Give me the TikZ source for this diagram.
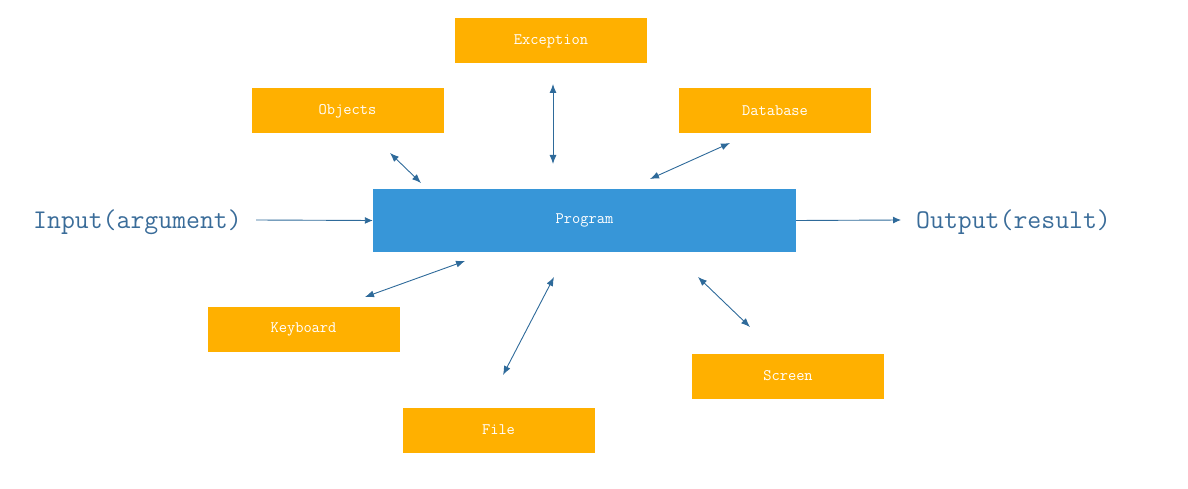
\documentclass[tikz,border=0pt]{standalone}
\usepackage{fontspec}
\usetikzlibrary{arrows.meta}
\definecolor{orangebox}{HTML}{FFB000}
\definecolor{bluebox}{HTML}{3796D8}
\definecolor{linecol}{HTML}{2E6A9A}
\definecolor{textcol}{HTML}{3A6C99}
\begin{document}
\begin{tikzpicture}[x=1pt,y=-1pt,
  obox/.style={fill=orangebox,draw=none,minimum width=192pt,minimum height=45pt,inner sep=0pt,text=white,font=\ttfamily\fontsize{16}{18}\selectfont},
  pbox/.style={fill=bluebox,draw=none,minimum width=423pt,minimum height=63pt,inner sep=0pt,text=white,font=\ttfamily\fontsize{16}{18}\selectfont},
  big/.style={text=textcol,font=\ttfamily\fontsize{27}{30}\selectfont,inner sep=0pt},
  con/.style={draw=linecol,line width=0.9pt},
  two/.style={con,{Latex[length=9pt,width=7pt]}-{Latex[length=9pt,width=7pt]}},
  one/.style={con,-{Latex[length=8pt,width=7pt]}}]
\useasboundingbox (0,0) rectangle (1188,489);
\node[obox] (exc) at (551,41) {Exception};
\node[obox] (obj) at (347.5,111) {Objects};
\node[obox] (db) at (775,111) {Database};
\node[pbox] (prog) at (584.5,220.5) {Program};
\node[obox] (kb) at (303.5,329.5) {Keyboard};
\node[obox] (file) at (498.5,430) {File};
\node[obox] (scr) at (788,376) {Screen};
\node[big,anchor=west] (in) at (33,222) {Input(argument)};
\node[big,anchor=west] (out) at (916,222) {Output(result)};
\coordinate (inA) at (256,220);
\coordinate (outB) at (901,220);
\draw[one] (inA) -- (prog.west);
\draw[one] (prog.east) -- (outB);
\coordinate (e1) at (553,84); \coordinate (e2) at (553,164);
\coordinate (o1) at (390,153); \coordinate (o2) at (421,183);
\coordinate (d1) at (730,143); \coordinate (d2) at (650,179);
\coordinate (k1) at (365,297); \coordinate (k2) at (465,261);
\coordinate (f1) at (503,375); \coordinate (f2) at (554,277);
\coordinate (s1) at (698,277); \coordinate (s2) at (750,327);
\draw[two] (e1) -- (e2);
\draw[two] (o1) -- (o2);
\draw[two] (d1) -- (d2);
\draw[two] (k1) -- (k2);
\draw[two] (f1) -- (f2);
\draw[two] (s1) -- (s2);
\end{tikzpicture}
\end{document}
